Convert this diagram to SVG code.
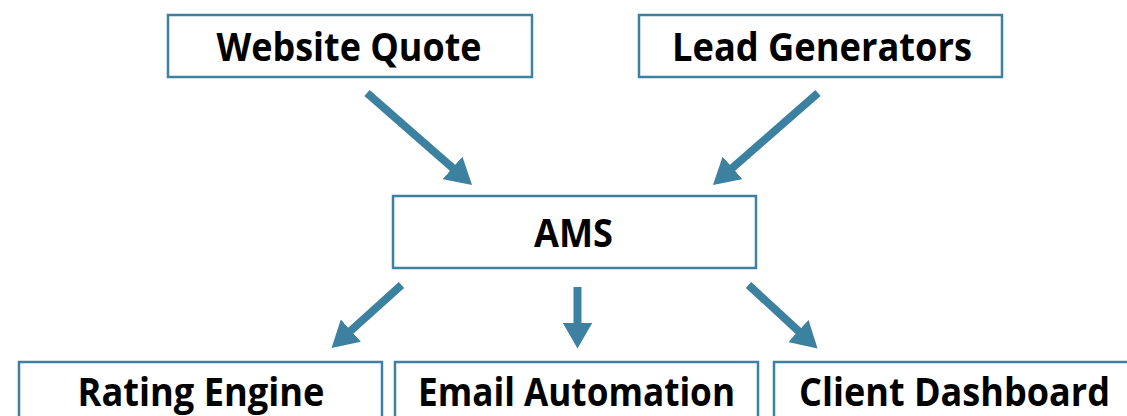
<svg xmlns="http://www.w3.org/2000/svg" width="1127" height="416" viewBox="0 0 1127 416">
<style>
.box{fill:#ffffff;stroke:#3d81a1;stroke-width:2.5}
.lbl{font-family:"Open Sans","Noto Sans","Liberation Sans",sans-serif;font-weight:700;font-size:39px;fill:#000;text-anchor:middle}
.arr{stroke:#3d81a1;stroke-width:8;fill:none;marker-end:url(#head)}
</style>
<defs>
<marker id="head" markerUnits="userSpaceOnUse" markerWidth="27" markerHeight="30" refX="6" refY="15" orient="auto" viewBox="0 0 27 30">
<path d="M0,0 L26,15 L0,30 z" fill="#3d81a1"/>
</marker>
</defs>
<rect width="1127" height="416" fill="#ffffff"/>
<g id="connectors">
<line class="arr" x1="367" y1="93" x2="457" y2="171.8"/>
<line class="arr" x1="818" y1="93" x2="728" y2="171.8"/>
<line class="arr" x1="401.5" y1="285" x2="346.4" y2="334.6"/>
<line class="arr" x1="577.5" y1="287" x2="577.5" y2="328.5"/>
<line class="arr" x1="748.5" y1="285" x2="802.8" y2="335"/>
</g>
<g id="website-quote">
<rect class="box" x="168" y="15" width="364" height="62"/>
<text class="lbl" x="349" y="61" textLength="265" lengthAdjust="spacingAndGlyphs">Website Quote</text>
</g>
<g id="lead-generators">
<rect class="box" x="639" y="15" width="363" height="62"/>
<text class="lbl" x="822" y="61" textLength="300" lengthAdjust="spacingAndGlyphs">Lead Generators</text>
</g>
<g id="ams">
<rect class="box" x="393" y="196" width="363" height="72"/>
<text class="lbl" x="573.5" y="247" textLength="79" lengthAdjust="spacingAndGlyphs">AMS</text>
</g>
<g id="rating-engine">
<rect class="box" x="19" y="362" width="363" height="62"/>
<text class="lbl" x="201" y="406" textLength="247" lengthAdjust="spacingAndGlyphs">Rating Engine</text>
</g>
<g id="email-automation">
<rect class="box" x="395" y="362" width="363" height="62"/>
<text class="lbl" x="576.5" y="406" textLength="317" lengthAdjust="spacingAndGlyphs">Email Automation</text>
</g>
<g id="client-dashboard">
<rect class="box" x="774" y="362" width="363" height="62"/>
<text class="lbl" x="954.5" y="406" textLength="311" lengthAdjust="spacingAndGlyphs">Client Dashboard</text>
</g>
</svg>
